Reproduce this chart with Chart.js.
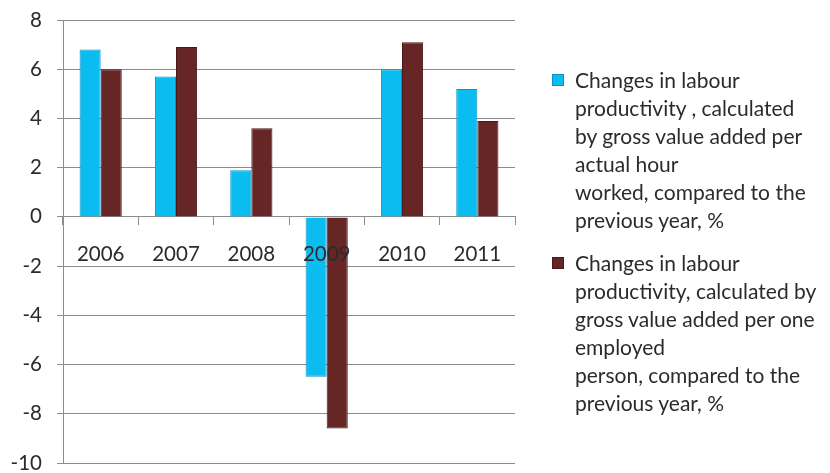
<!DOCTYPE html>
<html>
<head>
<meta charset="utf-8">
<script src="https://cdn.jsdelivr.net/npm/chart.js@4/dist/chart.umd.min.js"></script>
<style>
  html, body { margin: 0; padding: 0; background: #ffffff; }
  #wrap { position: relative; width: 830px; height: 473px; }
  #c { position: absolute; left: 0; top: 0; }
  #legend { position: absolute; left: 552px; top: 0; font-family: Lato, "Open Sans", sans-serif; font-size: 21px; line-height: 28px; color: #2b2b2b; }
  .item { position: absolute; left: 0; width: 280px; }
  .box { position: absolute; left: 0; top: 8px; width: 10px; height: 10px; border: 1px solid; }
  .text { position: absolute; left: 23px; top: 0; white-space: nowrap; }
</style>
</head>
<body>
<div id="wrap">
  <canvas id="c" width="830" height="473"></canvas>
  <div id="legend"></div>
</div>
<script>
const categories = ['2006', '2007', '2008', '2009', '2010', '2011'];
const perHourValues = [6.8, 5.7, 1.9, -6.5, 6.0, 5.2];
const perEmployedValues = [6.0, 6.9, 3.6, -8.6, 7.1, 3.9];
const yTickValues = [-10, -8, -6, -4, -2, 0, 2, 4, 6, 8];
const perHourLabel = [
  'Changes in labour',
  'productivity , calculated',
  'by gross value added per',
  'actual hour',
  'worked, compared to the',
  'previous year, %'
];
const perEmployedLabel = [
  'Changes in labour',
  'productivity, calculated by',
  'gross value added per one',
  'employed',
  'person, compared to the',
  'previous year, %'
];

Chart.defaults.font.family = 'Lato, "Open Sans", sans-serif';
Chart.defaults.color = '#2b2b2b';

const FS = 20.5;
const gridColor = '#8c8c8c';

const chart = new Chart(document.getElementById('c'), {
  type: 'bar',
  data: {
    labels: categories,
    datasets: [
      {
        label: perHourLabel,
        data: perHourValues,
        backgroundColor: '#0bbcf0',
        borderColor: '#0a93c4',
        borderWidth: 1,
        categoryPercentage: 0.56,
        barPercentage: 1.0
      },
      {
        label: perEmployedLabel,
        data: perEmployedValues,
        backgroundColor: '#662626',
        borderColor: '#4a1818',
        borderWidth: 1,
        categoryPercentage: 0.56,
        barPercentage: 1.0
      }
    ]
  },
  options: {
    responsive: false,
    animation: false,
    layout: { padding: { top: 20, bottom: 10, left: 0, right: 315 } },
    plugins: {
      tooltip: { enabled: false },
      legend: { display: false }
    },
    scales: {
      x: {
        position: { y: 0 },
        grid: {
          drawOnChartArea: false,
          drawTicks: true,
          tickLength: 8,
          offset: true,
          color: gridColor
        },
        border: { display: true, color: gridColor },
        ticks: {
          z: 1,
          padding: 17,
          color: '#2b2b2b',
          font: { size: FS },
          maxRotation: 0,
          autoSkip: false
        }
      },
      y: {
        min: -10,
        max: 8,
        afterBuildTicks: (s) => { s.ticks = yTickValues.map(v => ({ value: v })); },
        afterFit: (s) => { s.width = 63; s.paddingTop = 0; s.paddingBottom = 0; },
        grid: { color: gridColor, tickLength: 6, drawTicks: true },
        border: { display: true, color: gridColor },
        ticks: { padding: 15, color: '#2b2b2b', font: { size: FS } }
      }
    }
  }
});

// HTML legend built from the chart's datasets
const legendEl = document.getElementById('legend');
const itemTops = [66, 249];
chart.data.datasets.forEach((ds, i) => {
  const item = document.createElement('div');
  item.className = 'item';
  item.style.top = itemTops[i] + 'px';
  const box = document.createElement('div');
  box.className = 'box';
  box.style.background = ds.backgroundColor;
  box.style.borderColor = ds.borderColor;
  const text = document.createElement('div');
  text.className = 'text';
  text.innerHTML = ds.label.map(l => l.replace(/&/g, '&amp;').replace(/</g, '&lt;')).join('<br>');
  item.appendChild(box);
  item.appendChild(text);
  legendEl.appendChild(item);
});
</script>
</body>
</html>
